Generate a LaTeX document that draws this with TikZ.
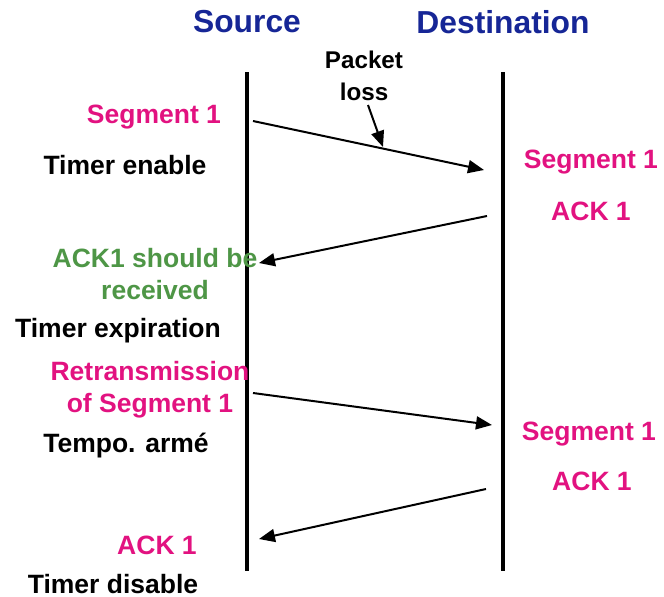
\documentclass[tikz,border=0pt]{standalone}
\usepackage{fontspec}
\setmainfont{Liberation Sans}
\usetikzlibrary{arrows.meta}
\definecolor{hdrblue}{RGB}{22,38,150}
\definecolor{segmag}{RGB}{226,18,128}
\definecolor{ackgreen}{RGB}{78,150,70}
\tikzset{
  hdr/.style={font=\bfseries\fontsize{31.8}{34}\selectfont, text=hdrblue, inner sep=0pt},
  lbl/.style={font=\bfseries\fontsize{26.5}{32}\selectfont, inner sep=0pt, align=center},
  seg/.style={lbl, text=segmag},
  lifeline/.style={line width=3.5pt},
  msg/.style={line width=2pt, -{Triangle[length=16pt,width=13pt]}},
}
\begin{document}
\begin{tikzpicture}[x=1pt,y=-1pt]
\useasboundingbox (0,0) rectangle (664,597);

% headers
\node[hdr] (src) at (247,22) {Source};
\node[hdr] (dst) at (503,22) {Destination};

% lifelines
\coordinate (srcTop) at (247,72);
\coordinate (srcBot) at (247,571);
\coordinate (dstTop) at (503,72);
\coordinate (dstBot) at (503,571);
\draw[lifeline] (srcTop) -- (srcBot);
\draw[lifeline] (dstTop) -- (dstBot);

% packet loss note
\node[lbl, font=\bfseries\fontsize{24.2}{32}\selectfont] (loss) at (364,76) {Packet\\loss};

% source side labels
\node[seg] (seg1) at (154,117) {Segment 1};
\node[lbl] (tenable) at (125,165) {Timer enable};
\node[lbl, text=ackgreen] (should) at (155,274) {ACK1 should be\\received};
\node[lbl] (texp) at (118,331) {Timer expiration};
\node[seg] (retx) at (150,390) {Retransmission\\of Segment 1};
\node[lbl] (tarme) at (126,446) {Tempo. armé};
\node[seg] (ackA) at (157,545) {ACK 1};
\node[lbl] (tdis) at (113,584) {Timer disable};

% destination side labels
\node[seg] (dseg1) at (591,162) {Segment 1};
\node[seg] (dack1) at (591,211) {ACK 1};
\node[seg] (dseg2) at (589,434) {Segment 1};
\node[seg] (dack2) at (592,481) {ACK 1};

% message endpoints
\coordinate (m1s) at (253,121);
\coordinate (m1e) at (484,170);
\coordinate (m2s) at (487,216);
\coordinate (m2e) at (259,263);
\coordinate (m3s) at (253,393);
\coordinate (m3e) at (492,425);
\coordinate (m4s) at (486,489);
\coordinate (m4e) at (259,539);
\coordinate (lossTail) at (368,105);
\coordinate (lossTip) at (383,147);

% messages
\draw[msg] (m1s) -- (m1e);
\draw[msg] (m2s) -- (m2e);
\draw[msg] (m3s) -- (m3e);
\draw[msg] (m4s) -- (m4e);
\draw[msg] (lossTail) -- (lossTip);
\end{tikzpicture}
\end{document}
